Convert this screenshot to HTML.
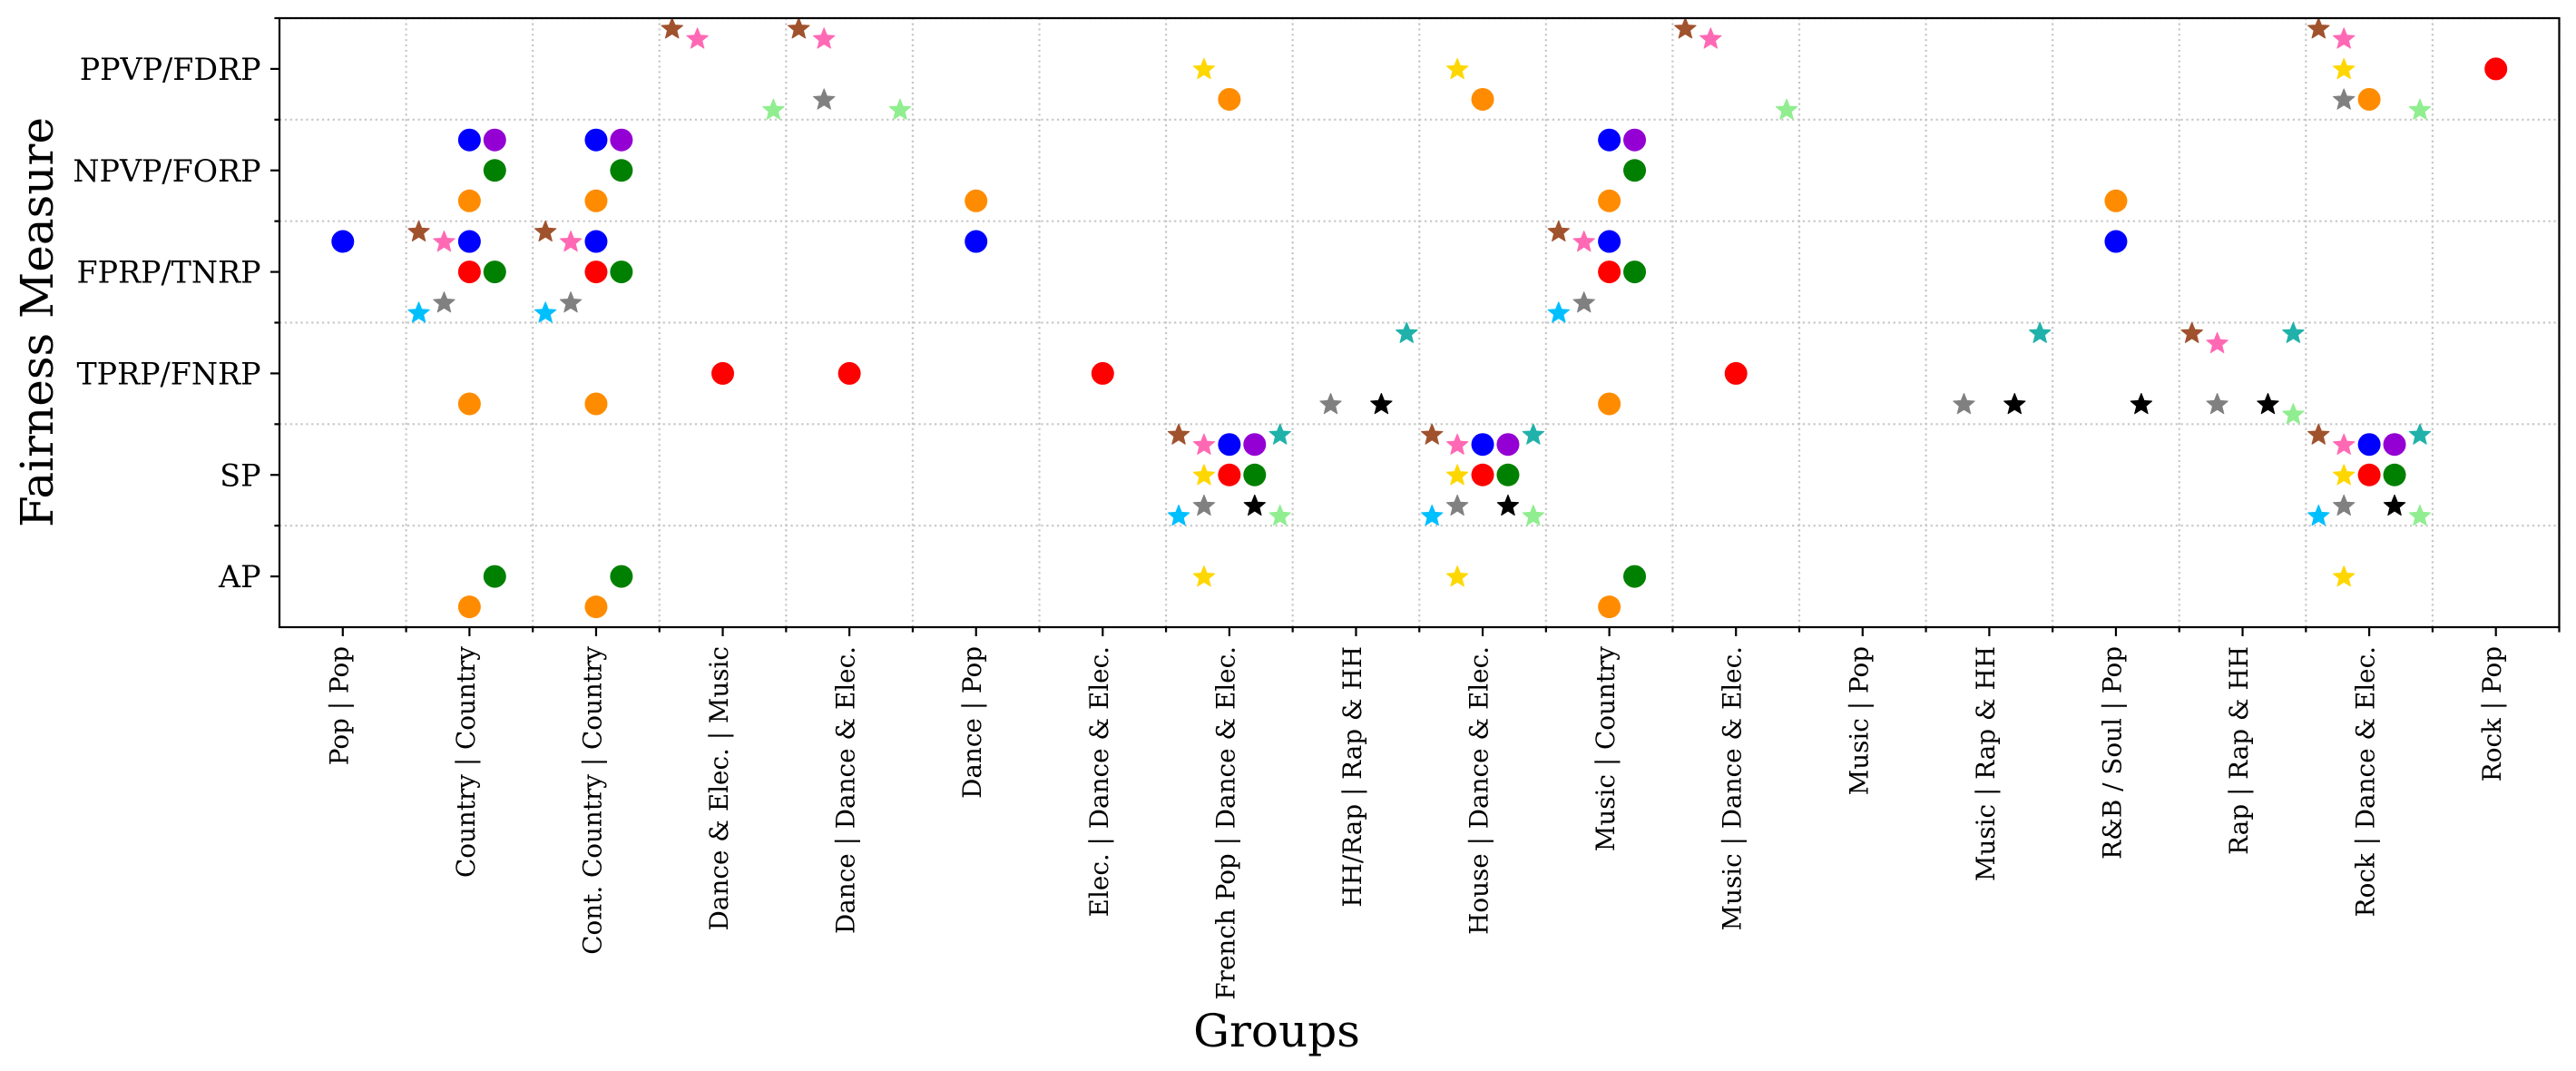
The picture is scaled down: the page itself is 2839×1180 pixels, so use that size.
<!DOCTYPE html>
<html lang="en">
<head>
<meta charset="utf-8">
<title>Fairness Measure by Group</title>
<style>
html,body{margin:0;padding:0;background:#fff;}
svg{display:block;}
text{font-family:"DejaVu Serif","Liberation Serif",serif;fill:#000;}
</style>
</head>
<body>
<svg id="chart" xmlns="http://www.w3.org/2000/svg" width="2839" height="1180" viewBox="0 0 2839 1180">
  <rect x="0" y="0" width="2839" height="1180" fill="#fff"/>
  <g id="grid"></g>
  <g id="marks"></g>
  <g id="ticks"></g>
  <g id="spines"></g>
  <g id="xlabels"></g>
  <g id="ylabels"></g>
  <text transform="translate(58 355) rotate(-90)" text-anchor="middle" font-size="50">Fairness Measure</text>
  <text x="1407" y="1153" text-anchor="middle" font-size="50">Groups</text>
</svg>
<script>
const groups = ['Pop | Pop','Country | Country','Cont. Country | Country','Dance & Elec. | Music','Dance | Dance & Elec.','Dance | Pop','Elec. | Dance & Elec.','French Pop | Dance & Elec.','HH/Rap | Rap & HH','House | Dance & Elec.','Music | Country','Music | Dance & Elec.','Music | Pop','Music | Rap & HH','R&B / Soul | Pop','Rap | Rap & HH','Rock | Dance & Elec.','Rock | Pop'];
const measures = ['AP','SP','TPRP/FNRP','FPRP/TNRP','NPVP/FORP','PPVP/FDRP'];

// Each entry: [group index, measure index]
const blueCircles = [[0,3],[1,4],[1,3],[2,4],[2,3],[5,3],[7,1],[9,1],[10,4],[10,3],[14,3],[16,1]];
const violetCircles = [[1,4],[2,4],[7,1],[9,1],[10,4],[16,1]];
const redCircles = [[1,3],[2,3],[3,2],[4,2],[6,2],[7,1],[9,1],[10,3],[11,2],[16,1],[17,5]];
const greenCircles = [[1,4],[1,3],[1,0],[2,4],[2,3],[2,0],[7,1],[9,1],[10,4],[10,3],[10,0],[16,1]];
const orangeCircles = [[1,4],[1,2],[1,0],[2,4],[2,2],[2,0],[5,4],[7,5],[9,5],[10,4],[10,2],[10,0],[14,4],[16,5]];
const brownStars = [[1,3],[2,3],[3,5],[4,5],[7,1],[9,1],[10,3],[11,5],[15,2],[16,5],[16,1]];
const pinkStars = [[1,3],[2,3],[3,5],[4,5],[7,1],[9,1],[10,3],[11,5],[15,2],[16,5],[16,1]];
const goldStars = [[7,5],[7,1],[7,0],[9,5],[9,1],[9,0],[16,5],[16,1],[16,0]];
const grayStars = [[1,3],[2,3],[4,5],[7,1],[8,2],[9,1],[10,3],[13,2],[15,2],[16,5],[16,1]];
const blackStars = [[7,1],[8,2],[9,1],[13,2],[14,2],[15,2],[16,1]];
const skyStars = [[1,3],[2,3],[7,1],[9,1],[10,3],[16,1]];
const lightGreenStars = [[3,5],[4,5],[7,1],[9,1],[11,5],[15,2],[16,5],[16,1]];
const tealStars = [[7,1],[8,2],[9,1],[13,2],[15,2],[16,1]];

const NS = 'http://www.w3.org/2000/svg';
const LEFT = 308, RIGHT = 2820.5, TOP = 20, BOTTOM = 691;
const xAxis = v => LEFT + (v + 0.5) * (RIGHT - LEFT) / groups.length;
const yAxis = v => BOTTOM - (v + 0.5) * (BOTTOM - TOP) / measures.length;

function node(tag, parent, attrs) {
  const el = document.createElementNS(NS, tag);
  for (const k in attrs) el.setAttribute(k, attrs[k]);
  parent.appendChild(el);
  return el;
}

const gridG = document.getElementById('grid');
const tickG = document.getElementById('ticks');
const spineG = document.getElementById('spines');
const xLabelG = document.getElementById('xlabels');
const yLabelG = document.getElementById('ylabels');
const marksG = document.getElementById('marks');
const GRID = {stroke:'#c6c6c6','stroke-width':2.2,'stroke-dasharray':'2.2 3.67',fill:'none'};
const TICK = {stroke:'#000','stroke-width':2.2};

// vertical grid lines and minor x ticks at group boundaries (right edge included, left edge not)
for (let i = 1; i <= groups.length; i++) {
  const x = xAxis(i - 0.5);
  const g = node('line', gridG, Object.assign({x1:x,x2:x,y1:BOTTOM,y2:TOP}, GRID));
  
  
  const t = node('line', tickG, Object.assign({x1:x,x2:x,y1:BOTTOM,y2:BOTTOM + 5.6}, TICK));
  
  
}
// horizontal grid lines and minor y ticks at measure boundaries (top edge included, bottom edge not)
for (let i = 1; i <= measures.length; i++) {
  const y = yAxis(i - 0.5);
  const g = node('line', gridG, Object.assign({x1:LEFT,x2:RIGHT,y1:y,y2:y}, GRID));
  
  
  const t = node('line', tickG, Object.assign({x1:LEFT - 5.6,x2:LEFT,y1:y,y2:y}, TICK));
  
  
}
// x ticks and labels
groups.forEach((name, i) => {
  const x = xAxis(i);
  const t = node('line', tickG, Object.assign({x1:x,x2:x,y1:BOTTOM,y2:BOTTOM + 10}, TICK));
  
  
  const l = node('text', xLabelG, {transform:'translate(' + (x + 5.5) + ' 712) rotate(-90)','text-anchor':'end','font-size':27.8});
  
  
  l.textContent = name;
});
// y ticks and labels
measures.forEach((name, i) => {
  const y = yAxis(i);
  const t = node('line', tickG, Object.assign({x1:LEFT - 10,x2:LEFT,y1:y,y2:y}, TICK));
  
  
  const l = node('text', yLabelG, {x:287.5,y:y + 12,'text-anchor':'end','font-size':33.3});
  
  
  l.textContent = name;
});

// marks, clipped to the axes
const defs = node('defs', document.getElementById('chart'), {});
const clip = node('clipPath', defs, {id:'axes-clip'});
node('rect', clip, {x:LEFT,y:TOP,width:RIGHT - LEFT,height:BOTTOM - TOP});
marksG.setAttribute('clip-path', 'url(#axes-clip)');

function starPath(cx, cy, r) {
  let d = '';
  for (let k = 0; k < 10; k++) {
    const rad = k % 2 ? r * 0.44 : r;
    const a = k * Math.PI / 5;
    d += (k ? 'L' : 'M') + (cx + rad * Math.sin(a)).toFixed(2) + ' ' + (cy - rad * Math.cos(a)).toFixed(2);
  }
  return d + 'Z';
}
function drawCircles(values, color, dx, dy) {
  values.forEach(v => {
    const c = node('circle', marksG, {cx:xAxis(v[0] + dx),cy:yAxis(v[1] + dy),r:12.5,fill:color});
    
    
  });
}
function drawStars(values, color, dx, dy) {
  values.forEach(v => {
    const s = node('path', marksG, {d:starPath(xAxis(v[0] + dx), yAxis(v[1] + dy) + 0.8, 12.3),fill:color,stroke:color,'stroke-width':1,'stroke-linejoin':'round'});
    
    
  });
}
drawCircles(blueCircles, '#0000ff', 0, 0.3);
drawCircles(violetCircles, '#9400d3', 0.2, 0.3);
drawCircles(redCircles, '#ff0000', 0, 0);
drawCircles(greenCircles, '#008000', 0.2, 0);
drawCircles(orangeCircles, '#ff8c00', 0, -0.3);
drawStars(brownStars, '#a0522d', -0.4, 0.4);
drawStars(pinkStars, '#ff69b4', -0.2, 0.3);
drawStars(goldStars, '#ffd700', -0.2, 0);
drawStars(grayStars, '#808080', -0.2, -0.3);
drawStars(blackStars, '#000000', 0.2, -0.3);
drawStars(skyStars, '#00bfff', -0.4, -0.4);
drawStars(lightGreenStars, '#90ee90', 0.4, -0.4);
drawStars(tealStars, '#20b2aa', 0.4, 0.4);

// spines
const spineRect = node('rect', spineG, {x:LEFT,y:TOP,width:RIGHT - LEFT,height:BOTTOM - TOP,fill:'none',stroke:'#000','stroke-width':2.2});


</script>
</body>
</html>
